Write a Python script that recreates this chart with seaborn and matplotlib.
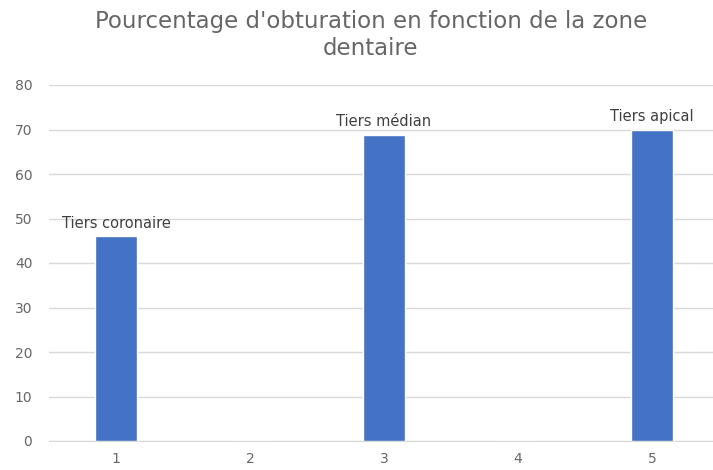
import numpy as np
import pandas as pd
import matplotlib
matplotlib.use('Agg')
import matplotlib.pyplot as plt
import seaborn as sns

# ── DATA ───
categories = ['1', '2', '3', '4', '5']
values = [46, 0, 68.8, 0, 70]
bar_labels = ['Tiers coronaire', '', 'Tiers médian', '', 'Tiers apical']
y_ticks = [0, 10, 20, 30, 40, 50, 60, 70, 80]

df = pd.DataFrame({'zone': categories, 'pct': values})

sns.set_style('white')
plt.rcParams['font.family'] = ['DejaVu Sans']

fig = plt.figure(figsize=(7.13, 4.70), dpi=100)
ax = fig.add_axes([49 / 713, (470 - 441) / 470, 670 / 713, 356 / 470])

sns.barplot(data=df, x='zone', y='pct', color='#4472C4', width=0.31,
            saturation=1, ax=ax, zorder=3)

# labels above the bars
for i, (v, lab) in enumerate(zip(values, bar_labels)):
    if lab:
        ax.annotate(lab, (i, v), xytext=(0, 4), textcoords='offset points',
                    ha='center', va='bottom', fontsize=10.5, color='#404040')

ax.set_ylim(0, 80)
ax.set_xlim(-0.5, 4.5)
ax.set_yticks(y_ticks)
ax.yaxis.grid(True, color='#D9D9D9', linewidth=1, zorder=0)
ax.set_axisbelow(True)
for s in ['top', 'right', 'left']:
    ax.spines[s].set_visible(False)
ax.spines['bottom'].set_color('#D9D9D9')
ax.tick_params(axis='both', length=0, labelsize=10, colors='#666666')
ax.tick_params(axis='x', pad=8)
ax.tick_params(axis='y', pad=12)
ax.set_xlabel('')
ax.set_ylabel('')

fig.text(0.52, 1 - 10 / 470, "Pourcentage d'obturation en fonction de la zone\ndentaire",
         ha='center', va='top', fontsize=16.5, color='#666666', linespacing=1.2)

plt.savefig('out.png', dpi=100)
